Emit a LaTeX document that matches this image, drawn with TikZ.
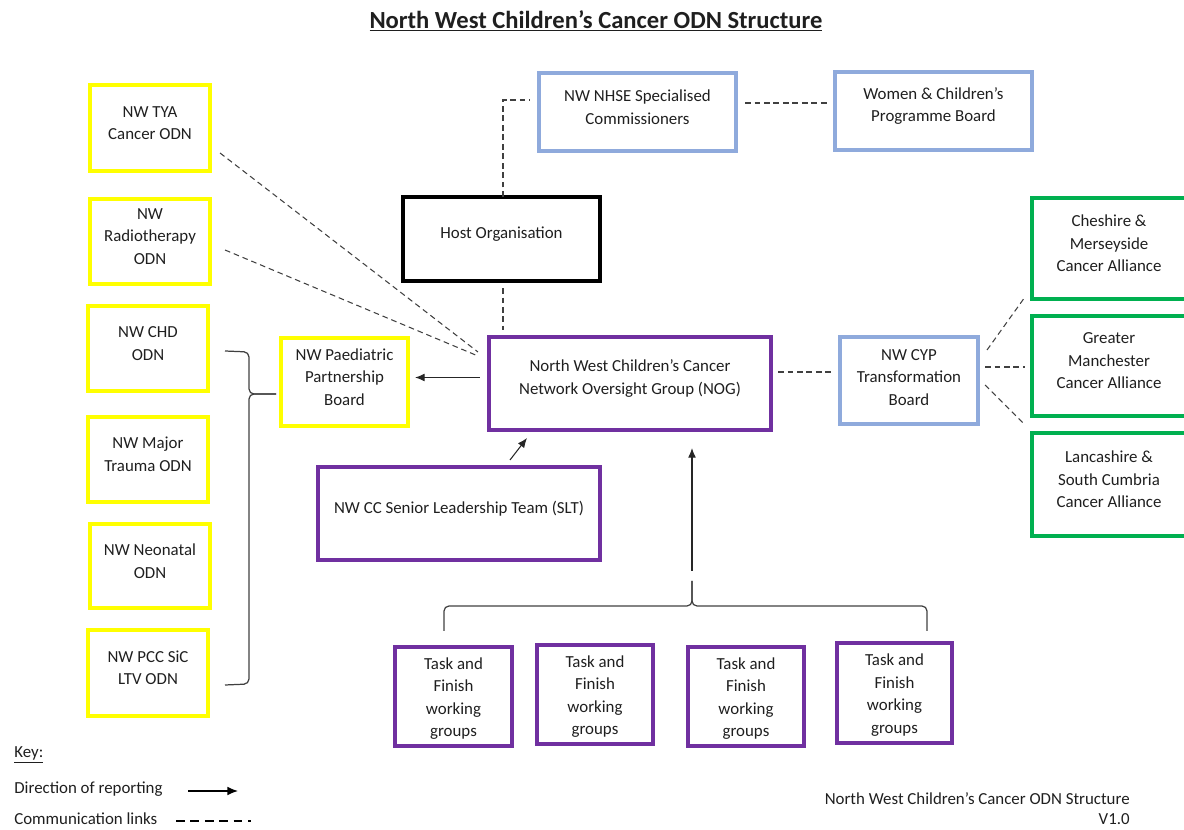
\documentclass[tikz,border=0pt]{standalone}
\usepackage{fontspec}
\setmainfont{Carlito}
\usetikzlibrary{arrows.meta,calc}
\definecolor{ylw}{HTML}{FFFF00}
\definecolor{lblue}{HTML}{8FAADC}
\definecolor{purp}{HTML}{7030A0}
\definecolor{grn}{HTML}{00B050}
\definecolor{txt}{HTML}{1F1F1F}
\begin{document}
\begin{tikzpicture}[x=0.02cm,y=-0.02cm,
 fnt/.style={font=\fontsize{9.6}{12.8}\selectfont, text=txt},
 box/.style={draw=#1, line width=2.3pt, inner sep=0pt},
 sz/.style 2 args={minimum width=#1*0.02cm, minimum height=#2*0.02cm},
 lbl/.style={fnt, align=center, yshift=0.1cm},
 comm/.style={draw=black!75, line width=0.6pt, dash pattern=on 3.2pt off 2.2pt},
 rep/.style={draw=black!85, line width=0.6pt, -{Latex[length=5.5pt,width=4.5pt]}},
 brc/.style={draw=black!75, line width=0.7pt, rounded corners=0.1cm},
]
\useasboundingbox (0,0) rectangle (1184,830);
\clip (0,0) rectangle (1184,830);

% title
\node[font=\fontsize{14}{17}\selectfont\bfseries, text=txt] (title) at (596,21) {\underline{North West Children’s Cancer ODN Structure}};

% left yellow column
\node[box=ylw, sz={120}{86}, label={[lbl]center:NW TYA\\Cancer ODN}] (tya) at (150,128) {};
\node[box=ylw, sz={120}{85}, label={[lbl]center:NW\\Radiotherapy\\ODN}] (radio) at (150,241.5) {};
\node[box=ylw, sz={120}{85}, label={[lbl]center:NW CHD\\ODN}] (chd) at (148,348.5) {};
\node[box=ylw, sz={120}{85}, label={[lbl]center:NW Major\\Trauma ODN}] (trauma) at (148,459.5) {};
\node[box=ylw, sz={120}{84}, label={[lbl]center:NW Neonatal\\ODN}] (neo) at (150,566) {};
\node[box=ylw, sz={120}{86}, label={[lbl]center:NW PCC SiC\\LTV ODN}] (pcc) at (148,673) {};
\node[box=ylw, sz={127}{88}, label={[lbl]center:NW Paediatric\\Partnership\\Board}] (ppb) at (344.5,382) {};

% centre
\node[box=black, sz={197}{84}, label={[lbl]center:Host Organisation}] (host) at (501.5,239) {};
\node[box=lblue, sz={197}{78}, label={[lbl]center:NW NHSE Specialised\\Commissioners}] (nhse) at (637.5,112) {};
\node[box=lblue, sz={197}{78}, label={[lbl]center:Women \& Children’s\\Programme Board}] (wc) at (933.5,111) {};
\node[box=purp, sz={282}{93}, label={[lbl]center:North West Children’s Cancer\\Network Oversight Group (NOG)}] (nog) at (630,383.5) {};
\node[box=purp, sz={282}{93}, label={[lbl]center:NW CC Senior Leadership Team (SLT)}] (slt) at (459,513.5) {};
\node[box=lblue, sz={138}{87}, label={[lbl,yshift=-0.04cm]center:NW CYP\\Transformation\\Board}] (cyp) at (909,380.5) {};

% right green column
\node[box=grn, sz={154}{101}, label={[lbl]center:Cheshire \&\\Merseyside\\Cancer Alliance}] (ches) at (1109,248.5) {};
\node[box=grn, sz={154}{100}, label={[lbl]center:Greater\\Manchester\\Cancer Alliance}] (gm) at (1109,366) {};
\node[box=grn, sz={154}{103}, label={[lbl]center:Lancashire \&\\South Cumbria\\Cancer Alliance}] (lanc) at (1109,484.5) {};

% task and finish groups
\node[box=purp, sz={117}{99}, label={[lbl,yshift=-0.14cm]center:Task and\\Finish\\working\\groups}] (t1) at (453.5,696.5) {};
\node[box=purp, sz={116}{99}, label={[lbl,yshift=-0.14cm]center:Task and\\Finish\\working\\groups}] (t2) at (595,694.5) {};
\node[box=purp, sz={116}{99}, label={[lbl,yshift=-0.14cm]center:Task and\\Finish\\working\\groups}] (t3) at (746,696.5) {};
\node[box=purp, sz={115}{100}, label={[lbl,yshift=-0.14cm]center:Task and\\Finish\\working\\groups}] (t4) at (894.5,693) {};

% communication links
\draw[comm] ($(tya.east)+(8,25)$) -- ($(nog.west)+(-9,-31.5)$);
\draw[comm] ($(radio.east)+(13,8.5)$) -- ($(nog.west)+(-9,-27.5)$);
\draw[comm, shorten <=0.1cm, shorten >=0.1cm] ($(host.south)+(1.5,0)$) -- ($(host.south |- nog.north)+(1.5,0)$);
\draw[comm] ($(host.north)+(1.5,2)$) |- ($(nhse.west)+(-7,-12)$);
\draw[comm, shorten >=0.1cm] ($(nhse.east)+(7,-9)$) coordinate (nw1) -- (nw1 -| wc.west);
\draw[comm, shorten >=0.12cm] ($(nog.east)+(5,-11.5)$) coordinate (nc1) -- (nc1 -| cyp.west);
\draw[comm] ($(cyp.east)+(7,-30.5)$) -- ($(ches.south west)+(-5,-4)$);
\draw[comm, shorten >=0.1cm] ($(cyp.east)+(5,-13.5)$) coordinate (cg1) -- (cg1 -| gm.west);
\draw[comm] ($(cyp.east)+(5,4.5)$) -- ($(lanc.north west)+(-5,-6)$);

% reporting arrows
\draw[rep, shorten >=0.1cm] ($(nog.west)+(-7,-6)$) coordinate (np1) -- (np1 -| ppb.east);
\draw[rep] ($(slt.north)+(51,-5)$) -- ($(nog.south)+(-103,6)$);

% left brace
\coordinate (ltip) at (276,394);
\draw[brc] (225,351) -- (249,352) -- (249,394) -- (ltip);
\draw[brc] (ltip) -- (249,394) -- (249,684) -- (225,685);

% bottom brace
\coordinate (btip) at (692,581);
\draw[brc] (444,631) -- (444,606) -- (692,606) -- (btip);
\draw[brc] (btip) -- (692,606) -- (927,606) -- (927,631);
\draw[rep, shorten <=0.2cm, shorten >=0.32cm] (btip) -- (btip |- nog.south);

% key
\node[fnt, anchor=west, inner xsep=0pt] (key) at (14,755) {\underline{Key:}};
\node[fnt, anchor=west, inner xsep=0pt] (kdir) at (14,789) {Direction of reporting};
\coordinate (ka1) at (188,791);
\coordinate (ka2) at (238,791);
\draw[draw=black, line width=0.9pt, -{Latex[length=6pt,width=5pt]}] (ka1) -- (ka2);
\node[fnt, anchor=west, inner sep=0pt] (kcom) at (14,819) {Communication links};
\coordinate (kc1) at (176,821);
\coordinate (kc2) at (251,821);
\draw[draw=black, line width=1pt, dash pattern=on 5pt off 3.2pt] (kc1) -- (kc2);

% footer
\node[fnt, anchor=east, inner xsep=0pt] (foot1) at (1130,799) {North West Children’s Cancer ODN Structure};
\node[fnt, anchor=east, inner xsep=0pt] (foot2) at (1130,819) {V1.0};
\end{tikzpicture}
\end{document}
